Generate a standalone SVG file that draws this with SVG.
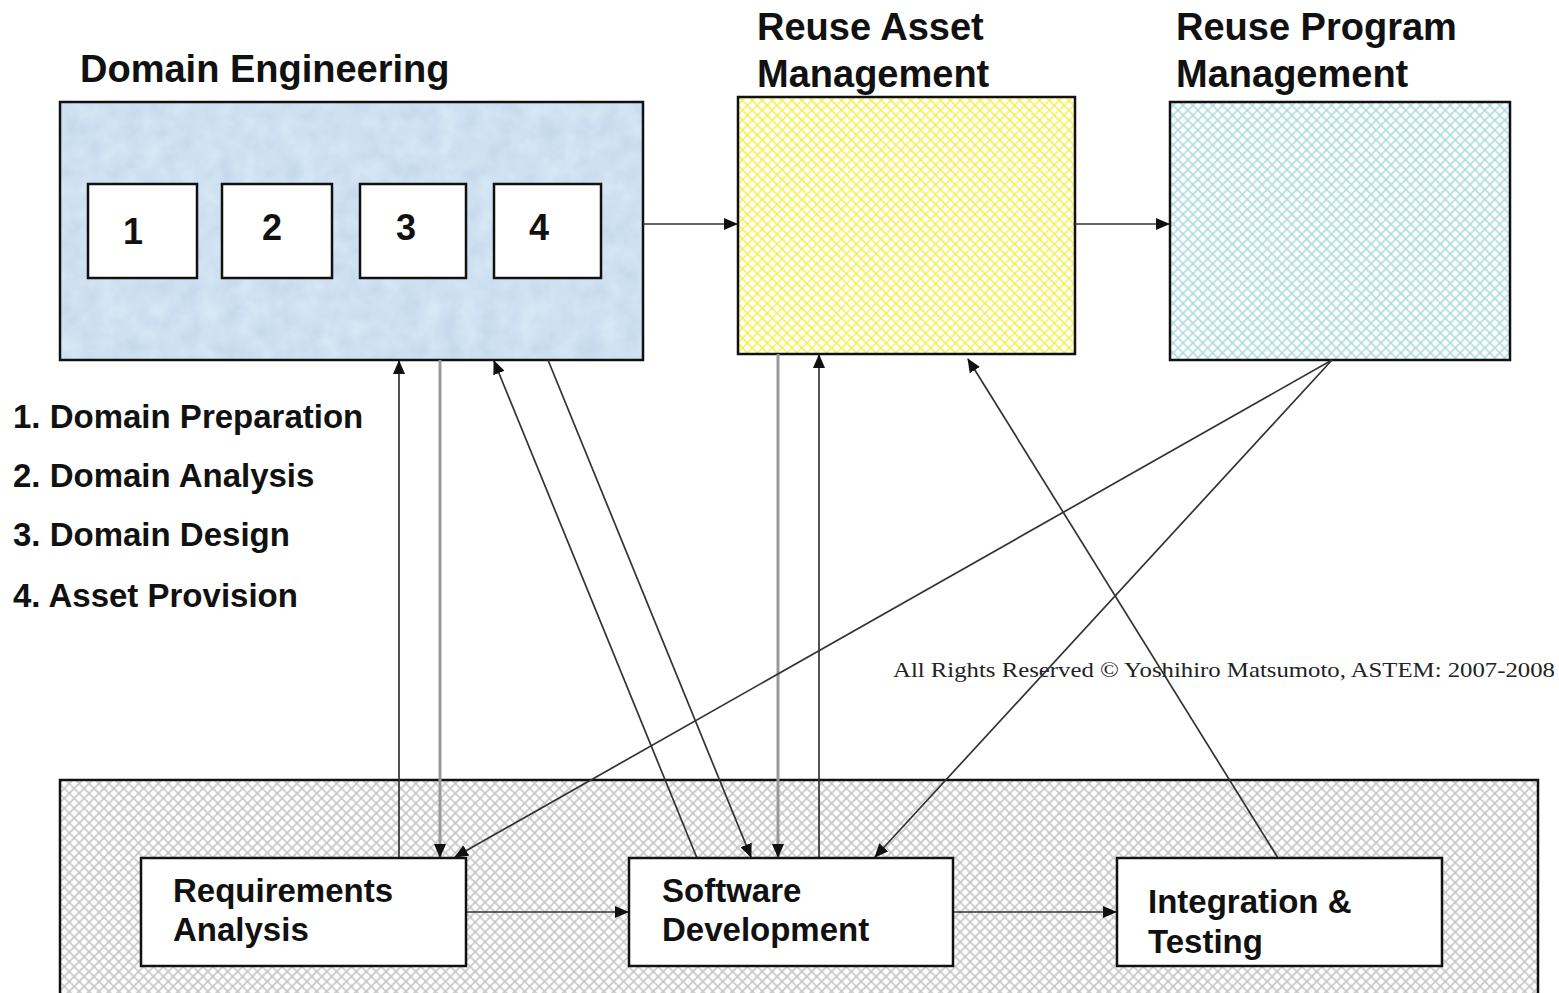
<svg xmlns="http://www.w3.org/2000/svg" width="1559" height="993" viewBox="0 0 1559 993">
  <style>
    .title { font-family: "Liberation Sans", Arial, sans-serif; font-weight: bold; font-size: 38px; fill: #111; }
    .step { font-family: "Liberation Sans", Arial, sans-serif; font-weight: bold; font-size: 36px; fill: #111; text-anchor: middle; }
    .legend { font-family: "Liberation Sans", Arial, sans-serif; font-weight: bold; font-size: 33px; fill: #111; }
    .label { font-family: "Liberation Sans", Arial, sans-serif; font-weight: bold; font-size: 33px; fill: #111; }
    .copy { font-family: "Liberation Serif", "Times New Roman", serif; font-size: 21px; fill: #222; }
    .frame { stroke: #111; stroke-width: 2.5; }
    .box { fill: #fff; stroke: #111; stroke-width: 2.5; }
    .link { fill: none; stroke: #333; stroke-width: 1.7; marker-end: url(#arrow); }
    .link-grey { fill: none; stroke: #999; stroke-width: 3; marker-end: url(#arrow); }
  </style>
  <defs>
    <marker id="arrow" markerUnits="userSpaceOnUse" markerWidth="14" markerHeight="12" refX="13" refY="6" orient="auto">
      <path d="M0,0 L14,6 L0,12 Z" fill="#111"/>
    </marker>
    <pattern id="hatchYellow" width="7" height="7" patternUnits="userSpaceOnUse" patternTransform="rotate(45)">
      <rect width="7" height="7" fill="#fff"/>
      <path d="M0,1 H7 M1,0 V7" stroke="#f4f040" stroke-width="1.3"/>
    </pattern>
    <pattern id="hatchCyan" width="7" height="7" patternUnits="userSpaceOnUse" patternTransform="rotate(45)">
      <rect width="7" height="7" fill="#fff"/>
      <path d="M0,1 H7 M1,0 V7" stroke="#a9dade" stroke-width="1.5"/>
    </pattern>
    <pattern id="hatchGrey" width="7" height="7" patternUnits="userSpaceOnUse" patternTransform="rotate(45)">
      <rect width="7" height="7" fill="#fff"/>
      <path d="M0,1 H7 M1,0 V7" stroke="#c4c4c4" stroke-width="1.6"/>
    </pattern>
    <filter id="mottle" x="0" y="0" width="100%" height="100%" color-interpolation-filters="sRGB">
      <feTurbulence type="fractalNoise" baseFrequency="0.05" numOctaves="3" seed="4" result="noise"/>
      <feColorMatrix in="noise" type="matrix"
        values="0 0 0 0.10 0.76
                0 0 0 0.08 0.84
                0 0 0 0.05 0.92
                0 0 0 0 1" result="tint"/>
      <feComposite in="tint" in2="SourceGraphic" operator="in"/>
    </filter>
  </defs>

  <!-- Domain Engineering -->
  <g id="domain-engineering">
    <text class="title" x="80" y="82">Domain Engineering</text>
    <rect x="60" y="102" width="583" height="258" fill="#d4e4f2" filter="url(#mottle)"/>
    <rect x="60" y="102" width="583" height="258" fill="none" class="frame"/>
    <g id="de-step-1">
      <rect class="box" x="88" y="184" width="109" height="94"/>
      <text class="step" x="133" y="244">1</text>
    </g>
    <g id="de-step-2">
      <rect class="box" x="222" y="184" width="110" height="94"/>
      <text class="step" x="272" y="240">2</text>
    </g>
    <g id="de-step-3">
      <rect class="box" x="360" y="184" width="106" height="94"/>
      <text class="step" x="406" y="240">3</text>
    </g>
    <g id="de-step-4">
      <rect class="box" x="494" y="184" width="107" height="94"/>
      <text class="step" x="539" y="240">4</text>
    </g>
  </g>

  <!-- Reuse Asset Management -->
  <g id="reuse-asset-management">
    <text class="title" x="757" y="40">Reuse Asset</text>
    <text class="title" x="757" y="87">Management</text>
    <rect x="738" y="97" width="337" height="257" fill="url(#hatchYellow)" class="frame"/>
  </g>

  <!-- Reuse Program Management -->
  <g id="reuse-program-management">
    <text class="title" x="1176" y="40">Reuse Program</text>
    <text class="title" x="1176" y="87">Management</text>
    <rect x="1170" y="102" width="340" height="258" fill="url(#hatchCyan)" class="frame"/>
  </g>

  <!-- Legend of domain engineering steps -->
  <g id="legend">
    <text class="legend" x="13" y="428">1. Domain Preparation</text>
    <text class="legend" x="13" y="487">2. Domain Analysis</text>
    <text class="legend" x="13" y="546">3. Domain Design</text>
    <text class="legend" x="13" y="607">4. Asset Provision</text>
  </g>

  <!-- Application engineering area -->
  <g id="application-engineering">
    <rect x="60" y="780" width="1478" height="230" fill="url(#hatchGrey)" class="frame"/>
  </g>

  <text class="copy" x="893" y="677" textLength="662" lengthAdjust="spacingAndGlyphs">All Rights Reserved © Yoshihiro Matsumoto, ASTEM: 2007-2008</text>

  <!-- Connectors -->
  <g id="connectors">
    <line class="link" x1="643" y1="224" x2="737" y2="224"/>
    <line class="link" x1="1075" y1="224" x2="1169" y2="224"/>
    <line class="link" x1="399" y1="858" x2="399" y2="361"/>
    <line class="link-grey" x1="440" y1="360" x2="440" y2="857"/>
    <line class="link" x1="697" y1="858" x2="494" y2="361"/>
    <line class="link" x1="548" y1="360" x2="751" y2="857"/>
    <line class="link-grey" x1="778" y1="354" x2="778" y2="857"/>
    <line class="link" x1="819" y1="858" x2="819" y2="355"/>
    <line class="link" x1="1278" y1="858" x2="968" y2="359"/>
    <line class="link" x1="1332" y1="360" x2="455" y2="857"/>
    <line class="link" x1="1332" y1="360" x2="875" y2="857"/>
    <line class="link" x1="466" y1="912" x2="628" y2="912"/>
    <line class="link" x1="953" y1="912" x2="1116" y2="912"/>
  </g>

  <!-- Application engineering activities -->
  <g id="requirements-analysis">
    <rect class="box" x="141" y="858" width="325" height="108"/>
    <text class="label" x="173" y="902">Requirements</text>
    <text class="label" x="173" y="941">Analysis</text>
  </g>
  <g id="software-development">
    <rect class="box" x="629" y="858" width="324" height="108"/>
    <text class="label" x="662" y="902">Software</text>
    <text class="label" x="662" y="941">Development</text>
  </g>
  <g id="integration-testing">
    <rect class="box" x="1117" y="858" width="325" height="108"/>
    <text class="label" x="1148" y="913">Integration &amp;</text>
    <text class="label" x="1148" y="953">Testing</text>
  </g>
</svg>
